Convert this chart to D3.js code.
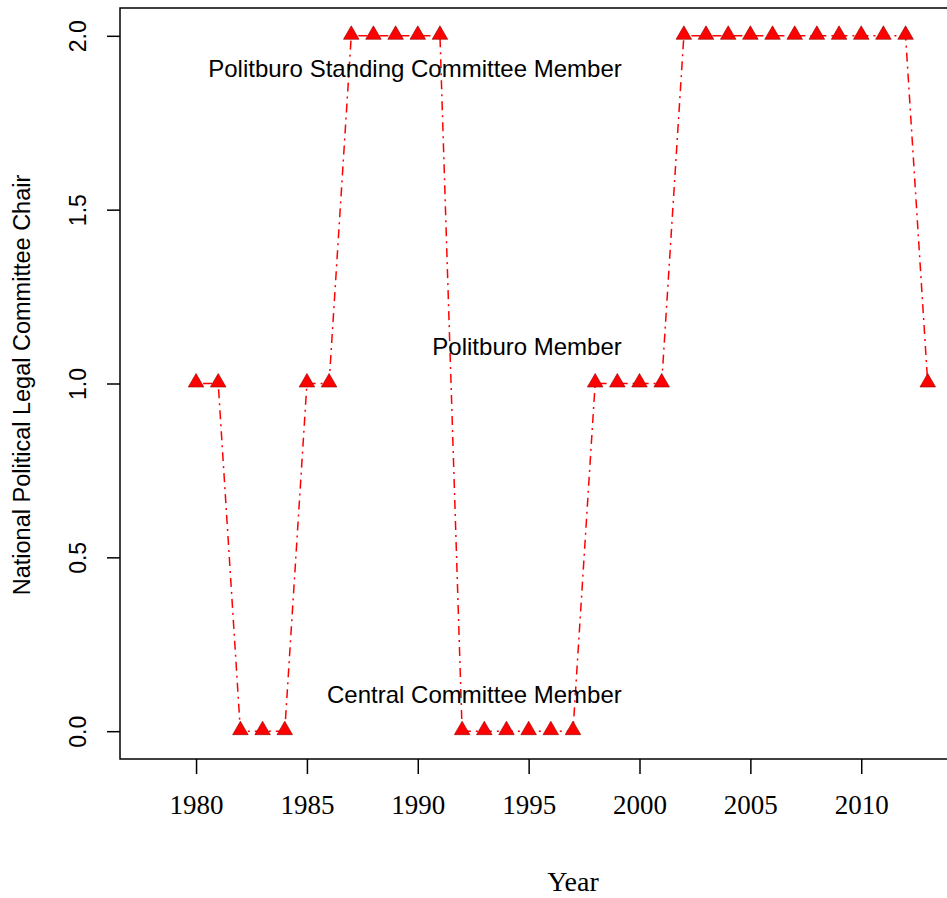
<!doctype html>
<html>
<head>
<title>Chair rank by year</title>
<script src="https://cdnjs.cloudflare.com/ajax/libs/d3/7.8.5/d3.min.js"></script>
<style>
  body { margin: 0; background: #fff; }
  svg { display: block; }
</style>
</head>
<body>
<div id="chartContainer"></div>
<script type="text/javascript">

var years = [1980, 1981, 1982, 1983, 1984, 1985, 1986, 1987, 1988, 1989, 1990, 1991,
             1992, 1993, 1994, 1995, 1996, 1997, 1998, 1999, 2000, 2001, 2002, 2003,
             2004, 2005, 2006, 2007, 2008, 2009, 2010, 2011, 2012, 2013];
var rank = [1, 1, 0, 0, 0, 1, 1, 2, 2, 2, 2, 2,
            0, 0, 0, 0, 0, 0, 1, 1, 1, 1, 2, 2,
            2, 2, 2, 2, 2, 2, 2, 2, 2, 1];
var xTicks = [1980, 1985, 1990, 1995, 2000, 2005, 2010];
var yTicks = [0, 0.5, 1, 1.5, 2];
var labelText = ["Politburo Standing Committee Member", "Politburo Member", "Central Committee Member"];
var labelY = [1.9, 1.1, 0.1];
var labelX = 1999.2;

function draw() {
  var width = 947, height = 898;
  var box = {left: 120, top: 8, right: 965, bottom: 759};

  var svg = d3.select("#chartContainer").append("svg")
      .attr("width", width)
      .attr("height", height);

  var x = d3.scaleLinear().domain([1976.57, 2014.68]).range([box.left, box.right]);
  var y = d3.scaleLinear().domain([-0.08, 2.08]).range([box.bottom, box.top]);

  // plot frame
  svg.append("rect")
      .attr("x", box.left).attr("y", box.top)
      .attr("width", box.right - box.left).attr("height", box.bottom - box.top)
      .attr("fill", "none").attr("stroke", "#000").attr("stroke-width", 1.5);

  // x axis
  var xAxis = svg.append("g")
      .attr("transform", "translate(0," + box.bottom + ")")
      .call(d3.axisBottom(x).tickValues(xTicks).tickSize(15).tickPadding(21).tickFormat(d3.format("d")));
  xAxis.select(".domain").remove();
  xAxis.selectAll("line").attr("stroke-width", 1.5);
  xAxis.selectAll("text")
      .style("font-family", "'Liberation Serif', 'DejaVu Serif', serif")
      .style("font-size", "27px")
      .attr("fill", "#000");

  // y axis
  var yAxis = svg.append("g")
      .attr("transform", "translate(" + box.left + ",0)")
      .call(d3.axisLeft(y).tickValues(yTicks).tickSize(13).tickFormat(d3.format(".1f")));
  yAxis.select(".domain").remove();
  yAxis.selectAll("line").attr("stroke-width", 1.5);
  yAxis.selectAll("text")
      .attr("x", 0).attr("y", 0).attr("dy", null)
      .attr("transform", "translate(-42,0) rotate(-90)")
      .attr("text-anchor", "middle")
      .attr("dominant-baseline", "central")
      .style("font-family", "'Liberation Sans', Arial, sans-serif")
      .style("font-size", "23px")
      .attr("fill", "#000");

  // axis titles
  svg.append("text")
      .attr("x", 573).attr("y", 891)
      .attr("text-anchor", "middle")
      .style("font-family", "'Liberation Serif', 'DejaVu Serif', serif")
      .style("font-size", "28px")
      .text("Year");

  svg.append("text")
      .attr("transform", "translate(22,385) rotate(-90)")
      .attr("text-anchor", "middle")
      .attr("dominant-baseline", "central")
      .style("font-family", "'Liberation Sans', Arial, sans-serif")
      .style("font-size", "23.5px")
      .text("National Political Legal Committee Chair");

  var data = years.map(function (yr, i) { return {year: yr, value: rank[i]}; });

  svg.append("defs").append("clipPath").attr("id", "clip")
      .append("rect").attr("x", 0).attr("y", 0).attr("width", width).attr("height", height);

  var plot = svg.append("g").attr("clip-path", "url(#clip)");

  plot.append("path")
      .datum(data)
      .attr("fill", "none")
      .attr("stroke", "#ff0000")
      .attr("stroke-width", 1.5)
      .attr("stroke-dasharray", "2,5,9,5")
      .attr("d", d3.line().x(function (d) { return x(d.year); }).y(function (d) { return y(d.value); }));

  var tri = d3.symbol().type(d3.symbolTriangle).size(105);
  plot.selectAll(".pt")
      .data(data)
      .enter().append("path")
      .attr("class", "pt")
      .attr("transform", function (d) { return "translate(" + x(d.year) + "," + (y(d.value) - 1) + ")"; })
      .attr("d", tri)
      .attr("fill", "#ff0000")
      .attr("stroke", "#8b0000")
      .attr("stroke-width", 0.6);

  // rank labels
  labelText.forEach(function (t, i) {
    svg.append("text")
        .attr("x", x(labelX))
        .attr("y", y(labelY[i]) - 2)
        .attr("text-anchor", "end")
        .attr("dominant-baseline", "central")
        .style("font-family", "'Liberation Sans', Arial, sans-serif")
        .style("font-size", "24px")
        .text(t);
  });
}

draw();
</script>
</body>
</html>
